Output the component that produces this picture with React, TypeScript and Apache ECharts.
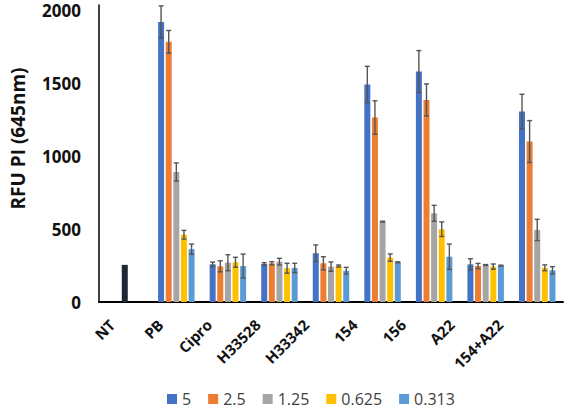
import React, { useEffect, useRef } from "react";
import * as echarts from "echarts";

const categories = ["NT", "PB", "Cipro", "H33528", "H33342", "154", "156", "A22", "154+A22"];
const seriesNames = ["5", "2.5", "1.25", "0.625", "0.313"];
const seriesColors = ["#4472C4", "#ED7D31", "#A5A5A5", "#FFC000", "#5B9BD5"];
const ntColor = "#1f2633";

const values5 = [null, 1924, 259, 261, 335, 1494, 1583, 258, 1308];
const values2_5 = [null, 1787, 245, 266, 266, 1267, 1388, 247, 1102];
const values1_25 = [255, 893, 270, 277, 243, 552, 609, 254, 495];
const values0_625 = [null, 462, 273, 232, 247, 305, 500, 243, 235];
const values0_313 = [null, 363, 247, 234, 215, 273, 311, 250, 218];

const err5 = [null, 110, 15, 9, 57, 125, 144, 39, 119];
const err2_5 = [null, 78, 38, 11, 45, 115, 110, 18, 144];
const err1_25 = [null, 62, 55, 23, 32, 3, 55, 3, 73];
const err0_625 = [null, 30, 34, 34, 7, 25, 50, 18, 20];
const err0_313 = [null, 35, 82, 32, 23, 3, 87, 3, 25];

const yTicks = [0, 500, 1000, 1500, 2000];
const yAxisName = "RFU PI (645nm)";

const allValues = [values5, values2_5, values1_25, values0_625, values0_313];
const allErrors = [err5, err2_5, err1_25, err0_625, err0_313];

const BAR_W = 6;
const BAR_GAP = 0.27;
const LABEL_MARGIN = 20;
const LABEL_FONT = "bold 15px 'Open Sans'";

function measure(text: string): number {
  const cv = document.createElement("canvas");
  const ctx = cv.getContext("2d");
  if (!ctx) return text.length * 9;
  ctx.font = LABEL_FONT;
  return ctx.measureText(text).width;
}

export default function App() {
  const ref = useRef<HTMLDivElement>(null);
  useEffect(() => {
    if (!ref.current) return;
    const chart = echarts.init(ref.current, null, { renderer: "svg" });
    const pitch = BAR_W * (1 + BAR_GAP);

    const barSeries = seriesNames.map((name, si) => ({
      type: "bar",
      name,
      xAxisIndex: 0,
      yAxisIndex: 0,
      barWidth: BAR_W,
      barGap: `${BAR_GAP * 100}%`,
      itemStyle: { color: seriesColors[si] },
      data: allValues[si].map((v, ci) =>
        v == null
          ? null
          : categories[ci] === "NT"
          ? { value: v, itemStyle: { color: ntColor } }
          : v
      ),
    }));

    const errSeries = seriesNames.map((name, si) => ({
      type: "custom",
      name: "err-" + name,
      xAxisIndex: 0,
      yAxisIndex: 0,
      z: 5,
      encode: { x: 0, y: 1 },
      data: allValues[si]
        .map((v, ci) => (v == null || allErrors[si][ci] == null ? null : [ci, v, allErrors[si][ci]]))
        .filter((d) => d != null),
      renderItem: (params: any, api: any) => {
        const ci = api.value(0);
        const v = api.value(1);
        const e = api.value(2);
        const top = api.coord([ci, v + e]);
        const bot = api.coord([ci, v - e]);
        const x = top[0] + (si - 2) * pitch;
        const cap = 2.5;
        const style = { stroke: "#555555", lineWidth: 1.4, fill: null };
        return {
          type: "group",
          children: [
            { type: "line", shape: { x1: x, y1: top[1], x2: x, y2: bot[1] }, style },
            { type: "line", shape: { x1: x - cap, y1: top[1], x2: x + cap, y2: top[1] }, style },
            { type: "line", shape: { x1: x - cap, y1: bot[1], x2: x + cap, y2: bot[1] }, style },
          ],
        };
      },
    }));

    chart.setOption({
      animation: false,
      textStyle: { fontFamily: "Open Sans" },
      grid: [
        { left: 98, right: 2, top: 5, bottom: 110 },
        { left: 87.75, width: 436.5, top: 5, bottom: 110 },
      ],
      legend: {
        data: seriesNames,
        left: 162,
        top: 386,
        icon: "rect",
        itemWidth: 10,
        itemHeight: 10,
        itemGap: 17,
        textStyle: { fontFamily: "Open Sans", fontSize: 16, color: "#404040" },
      },
      xAxis: [
        {
          type: "category",
          gridIndex: 0,
          data: categories,
          axisLine: { lineStyle: { color: "#000", width: 2 } },
          axisTick: { show: false },
          axisLabel: { show: false },
        },
        {
          type: "category",
          gridIndex: 1,
          data: categories,
          show: false,
        },
      ],
      yAxis: [
        {
          type: "value",
          gridIndex: 0,
          min: 0,
          max: 2040,
          interval: 500,
          name: yAxisName,
          nameLocation: "middle",
          nameGap: 72,
          nameTextStyle: {
            fontFamily: "Open Sans",
            fontWeight: "bold",
            fontSize: 19,
            color: "#111",
            padding: [0, 0, 0, 30],
          },
          axisLine: { show: true, lineStyle: { color: "#000", width: 1.5 } },
          axisTick: { show: false },
          splitLine: { show: false },
          axisLabel: {
            margin: 18,
            fontFamily: "Open Sans",
            fontWeight: "bold",
            fontSize: 17,
            color: "#111",
            formatter: (v: number) => (yTicks.indexOf(v) >= 0 ? String(v) : ""),
          },
        },
        { type: "value", gridIndex: 1, show: false, min: 0, max: 2040 },
      ],
      series: [...barSeries, ...errSeries],
    });

    // Rotated category labels: anchor (right end) from the label axis scale
    const c45 = Math.SQRT1_2;
    const labelGraphics = categories.map((c, ci) => {
      const p = chart.convertToPixel({ gridIndex: 1 }, [ci, 0]) as number[];
      const ax = p[0];
      const ay = p[1] + LABEL_MARGIN;
      const w = measure(c);
      return {
        type: "text",
        x: ax - w * c45,
        y: ay + w * c45,
        rotation: Math.PI / 4,
        style: {
          text: c,
          fontFamily: "Open Sans",
          fontWeight: "bold",
          fontSize: 15,
          fill: "#111",
          verticalAlign: "middle",
        },
      };
    });
    chart.setOption({ graphic: labelGraphics });

    return () => chart.dispose();
  }, []);
  return (
    <div
      ref={ref}
      style={{ position: "fixed", left: 0, top: 0, width: 565, height: 412, background: "#fff" }}
    />
  );
}
